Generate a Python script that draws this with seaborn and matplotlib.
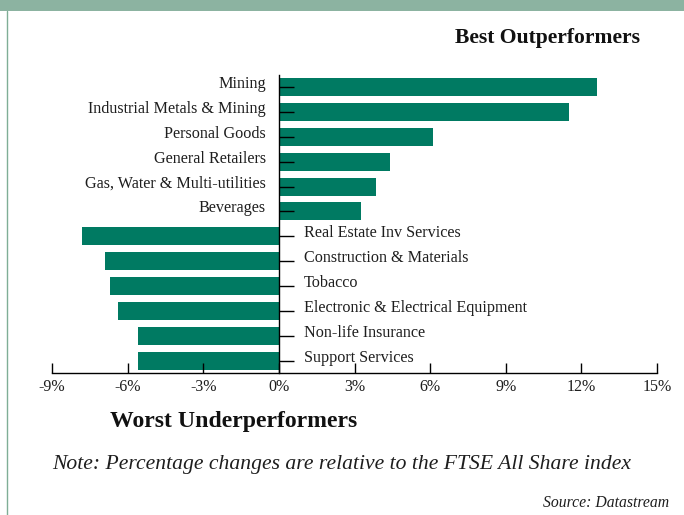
import matplotlib
matplotlib.use("Agg")
import matplotlib.pyplot as plt
import matplotlib.transforms as mtransforms
from matplotlib.patches import Rectangle
from matplotlib.lines import Line2D
import seaborn as sns
import pandas as pd

categories = ["Mining", "Industrial Metals & Mining", "Personal Goods", "General Retailers",
              "Gas, Water & Multi-utilities", "Beverages", "Real Estate Inv Services",
              "Construction & Materials", "Tobacco", "Electronic & Electrical Equipment",
              "Non-life Insurance", "Support Services"]
values = [12.6, 11.5, 6.1, 4.4, 3.85, 3.25, -7.8, -6.9, -6.7, -6.4, -5.6, -5.6]
xticks = [-9, -6, -3, 0, 3, 6, 9, 12, 15]
xtick_labels = ["-9%", "-6%", "-3%", "0%", "3%", "6%", "9%", "12%", "15%"]

sns.set_style("white")
plt.rcParams["font.family"] = ["Liberation Serif", "DejaVu Serif"]

BAR = "#007a62"
BAND = "#8cb3a1"
TXT = "#1e1e1e"

df = pd.DataFrame({"cat": categories, "val": values})

fig = plt.figure(figsize=(6.84, 5.15), dpi=100)
ax = fig.add_axes([52/684, 1-373/515, (657-52)/684, (373-74.7)/515])
sns.barplot(data=df, x="val", y="cat", orient="h", color=BAR, width=0.72,
            saturation=1, ax=ax, edgecolor="none")

ax.set_axisbelow(False)
ax.set_xlim(-9, 15)
ax.set_ylim(11.5, -0.5)
ax.set_xticks(xticks)
ax.set_xticklabels(xtick_labels, fontsize=11.5, color=TXT)
ax.set_xlabel("")
ax.set_ylabel("")
ax.set_yticklabels([])
ax.tick_params(axis="x", direction="in", length=7, width=1, color="black", pad=4, bottom=True)
ax.tick_params(axis="y", direction="in", length=11, width=1, color="black", left=True)
for s in ["top", "right"]:
    ax.spines[s].set_visible(False)
ax.spines["left"].set_position(("data", 0))
ax.spines["left"].set_color("black")
ax.spines["bottom"].set_color("black")
ax.spines["left"].set_linewidth(1)
ax.spines["bottom"].set_linewidth(1)

left_tr = mtransforms.offset_copy(ax.transData, fig=fig, x=-13, y=3, units="dots")
right_tr = mtransforms.offset_copy(ax.transData, fig=fig, x=25, y=3, units="dots")
for i, (c, v) in enumerate(zip(categories, values)):
    if v >= 0:
        ax.text(0, i, c, transform=left_tr, ha="right", va="center", fontsize=11.6, color=TXT)
    else:
        ax.text(0, i, c, transform=right_tr, ha="left", va="center", fontsize=11.6, color=TXT)

fig.patches.append(Rectangle((0, 1-11/515), 1, 11/515, transform=fig.transFigure,
                             facecolor=BAND, edgecolor="none", zorder=0))
fig.lines.append(Line2D([6.5/684, 6.5/684], [0, 1-11/515], transform=fig.transFigure,
                        color="#7fae96", lw=1))

fig.text(640/684, 1-38/515, "Best Outperformers", ha="right", va="center",
         fontsize=15.6, fontweight="bold", color="#111111")
fig.text(110/684, 1-422/515, "Worst Underperformers", ha="left", va="center",
         fontsize=17.1, fontweight="bold", color="#111111")
fig.text(52/684, 1-465/515, "Note: Percentage changes are relative to the FTSE All Share index",
         ha="left", va="center", fontsize=15.6, style="italic", color=TXT)
fig.text(669/684, 1-503/515, "Source: Datastream", ha="right", va="center",
         fontsize=11.3, style="italic", color=TXT)

fig.savefig("out.png", dpi=100)
